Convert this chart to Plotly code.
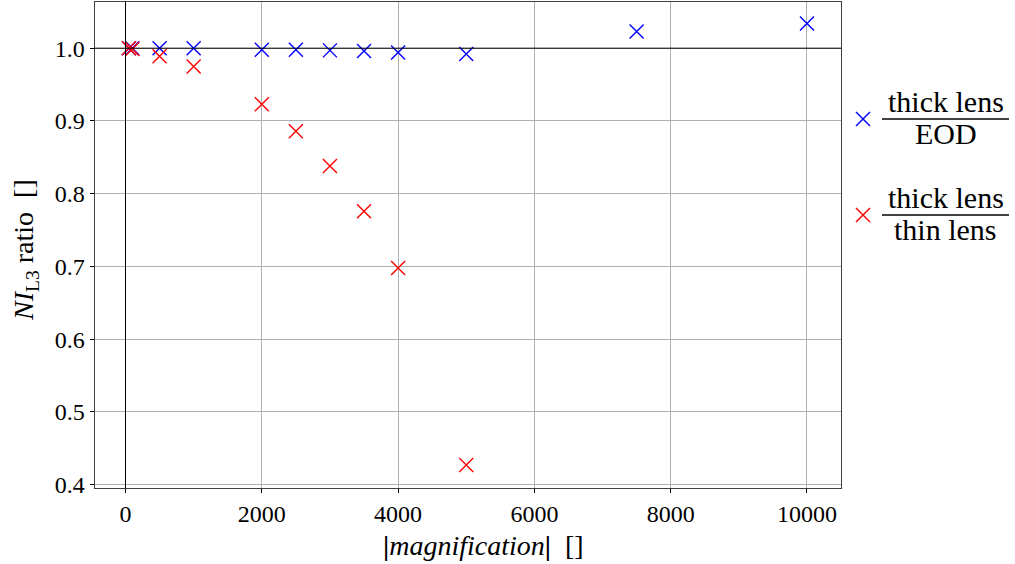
import plotly.graph_objects as go

# Data
magnification = [50, 100, 500, 1000, 2000, 2500, 3000, 3500, 4000, 5000, 7500, 10000]
ratio_eod = [1.000, 1.000, 1.000, 1.000, 0.998, 0.998, 0.997, 0.996, 0.994, 0.992, 1.023, 1.034]
mag_thin = [50, 100, 500, 1000, 2000, 2500, 3000, 3500, 4000, 5000]
ratio_thin = [1.000, 0.999, 0.989, 0.975, 0.923, 0.886, 0.838, 0.776, 0.698, 0.427]

x_ticks = [0, 2000, 4000, 6000, 8000, 10000]
y_ticks = [0.4, 0.5, 0.6, 0.7, 0.8, 0.9, 1.0]
legend_labels = [("thick lens", "EOD", "blue"), ("thick lens", "thin lens", "red")]

W, H = 1015, 564
FONT = "Liberation Serif, Times New Roman, serif"

# plot area in pixels and axis ranges
PX0, PX1, PY0, PY1 = 94.5, 841, 2, 488
XR = [-455, 10499]
YR = [0.3955, 1.0635]


def fx(px):  # px -> paper x
    return px / W


def fy(py):  # px -> paper y
    return 1 - py / H


fig = go.Figure()
fig.add_trace(go.Scatter(x=magnification, y=ratio_eod, mode="markers",
                         marker=dict(symbol="x-thin", size=14, color="blue",
                                     line=dict(width=1.4, color="blue")),
                         showlegend=False))
fig.add_trace(go.Scatter(x=mag_thin, y=ratio_thin, mode="markers",
                         marker=dict(symbol="x-thin", size=14, color="red",
                                     line=dict(width=1.4, color="red")),
                         showlegend=False))

# Legend (drawn manually, outside the plot area)
leg_py = [119, 215]
mx, ms = 863, 7
for (num, den, col), py in zip(legend_labels, leg_py):
    for s in (1, -1):
        fig.add_shape(type="line", xref="paper", yref="paper",
                      x0=fx(mx - ms), x1=fx(mx + ms), y0=fy(py - s * ms), y1=fy(py + s * ms),
                      line=dict(color=col, width=1.4))
    fig.add_shape(type="line", xref="paper", yref="paper",
                  x0=fx(882), x1=fx(1009), y0=fy(py), y1=fy(py),
                  line=dict(color="black", width=1.4))
    fig.add_annotation(x=fx(945.5), y=fy(py + 1), xref="paper", yref="paper",
                       xanchor="center", yanchor="bottom",
                       text=num, showarrow=False, font=dict(family=FONT, size=30, color="black"))
    fig.add_annotation(x=fx(945.5), y=fy(py - 4), xref="paper", yref="paper",
                       xanchor="center", yanchor="top",
                       text=den, showarrow=False, font=dict(family=FONT, size=30, color="black"))

# axis titles
fig.add_annotation(x=fx(483), y=fy(545), xref="paper", yref="paper",
                   xanchor="center", yanchor="middle", showarrow=False,
                   text="<b>|</b><i>magnification</i><b>|</b>&nbsp;&nbsp;[]",
                   font=dict(family=FONT, size=28, color="black"))
fig.add_annotation(x=fx(26), y=fy(250), xref="paper", yref="paper",
                   xanchor="center", yanchor="middle", showarrow=False, textangle=-90,
                   text="<i>NI</i><sub>L3</sub> ratio&nbsp;&nbsp;[]",
                   font=dict(family=FONT, size=28, color="black"))

# reference lines
fig.add_shape(type="line", xref="x domain", yref="y", x0=0, x1=1, y0=1.0, y1=1.0,
              line=dict(color="black", width=1), layer="above")
fig.add_shape(type="line", xref="x", yref="y domain", x0=0, x1=0, y0=0, y1=1,
              line=dict(color="black", width=1), layer="above")

axis_common = dict(showline=True, linecolor="#404040", linewidth=1, mirror=True,
                   ticks="outside", ticklen=4, tickcolor="black", showgrid=True,
                   gridcolor="#b0b0b0", gridwidth=0.8, zeroline=False,
                   tickfont=dict(family=FONT, size=24, color="black"), automargin=False)

fig.update_layout(
    width=W, height=H,
    margin=dict(l=0, r=0, t=0, b=0),
    plot_bgcolor="white", paper_bgcolor="white",
    font=dict(family=FONT, color="black"),
    xaxis=dict(domain=[fx(PX0), fx(PX1)], range=XR, tickvals=x_ticks,
               ticktext=[str(v) for v in x_ticks], **axis_common),
    yaxis=dict(domain=[fy(PY1), fy(PY0)], range=YR, tickvals=y_ticks,
               ticktext=[f"{v:.1f}" for v in y_ticks], **axis_common),
)

fig.write_html("out.html", config={"displayModeBar": False},
               post_script="document.body.style.margin='0';document.body.style.overflow='hidden';")
